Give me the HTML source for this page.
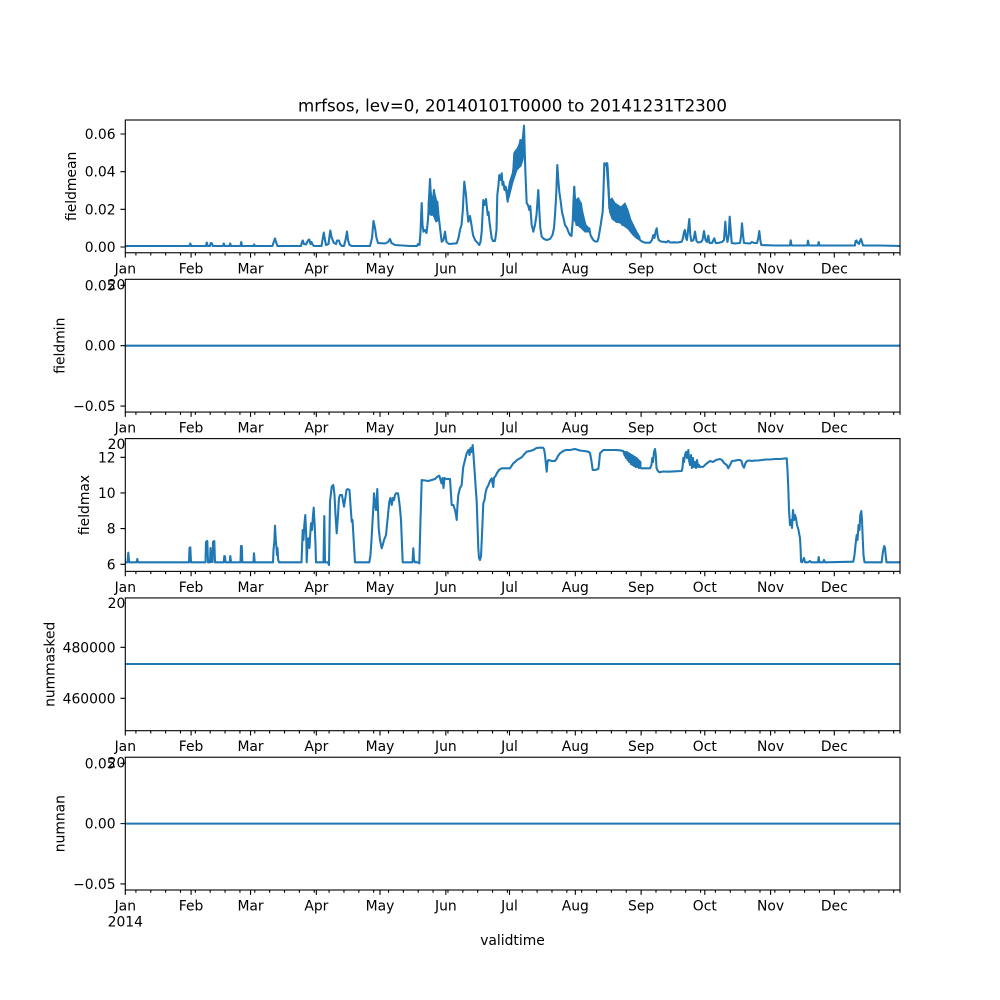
<!DOCTYPE html>
<html><head><meta charset="utf-8"><style>
html,body{margin:0;padding:0;background:#fff;}
svg{display:block;}
text{font-family:"DejaVu Sans","Liberation Sans",sans-serif;fill:#000;}
.t{font-size:13.89px;}
</style></head><body>
<svg width="1000" height="1000" viewBox="0 0 1000 1000" xmlns="http://www.w3.org/2000/svg">
<defs>
<path id="xt" d="M125.3 0v4.86M191.1 0v4.86M250.54 0v4.86M316.34 0v4.86M380.03 0v4.86M445.83 0v4.86M509.51 0v4.86M575.31 0v4.86M641.12 0v4.86M704.8 0v4.86M770.6 0v4.86M834.29 0v4.86M135.91 0v2.78M150.77 0v2.78M165.63 0v2.78M180.49 0v2.78M195.35 0v2.78M210.21 0v2.78M225.07 0v2.78M239.93 0v2.78M254.78 0v2.78M269.64 0v2.78M284.5 0v2.78M299.36 0v2.78M314.22 0v2.78M329.08 0v2.78M343.94 0v2.78M358.8 0v2.78M373.66 0v2.78M388.52 0v2.78M403.37 0v2.78M418.23 0v2.78M433.09 0v2.78M447.95 0v2.78M462.81 0v2.78M477.67 0v2.78M492.53 0v2.78M507.39 0v2.78M522.25 0v2.78M537.11 0v2.78M551.97 0v2.78M566.82 0v2.78M581.68 0v2.78M596.54 0v2.78M611.4 0v2.78M626.26 0v2.78M641.12 0v2.78M655.98 0v2.78M670.84 0v2.78M685.7 0v2.78M700.56 0v2.78M715.41 0v2.78M730.27 0v2.78M745.13 0v2.78M759.99 0v2.78M774.85 0v2.78M789.71 0v2.78M804.57 0v2.78M819.43 0v2.78M834.29 0v2.78M849.15 0v2.78M864.01 0v2.78M878.86 0v2.78M893.72 0v2.78M900 0v2.78" stroke="#000" stroke-width="1.1" fill="none"/>
<clipPath id="c1"><rect x="125.3" y="120" width="774.7" height="132.76"/></clipPath>
<clipPath id="c3"><rect x="125.3" y="438.62" width="774.7" height="132.76"/></clipPath>
</defs>
<rect width="1000" height="1000" fill="#fff"/>

<text x="512.5" y="111.5" text-anchor="middle" style="font-size:16.67px">mrfsos, lev=0, 20140101T0000 to 20141231T2300</text>

<!-- Panel 1 -->
<rect x="125.3" y="120" width="774.7" height="132.76" fill="#fff"/>
<g clip-path="url(#c1)" fill="#1f77b4" stroke="#1f77b4" stroke-width="1" stroke-linejoin="round">
<polygon points="505,186 508,192 510,180 512.7,172 514.3,152 516.3,150 518.3,146 520.3,140 522.3,140 524,126 524.5,150 523,160 521,166 519,168 517,170 515,176 513,182 511,190 509,198 507,200"/>
<polygon points="606,163 608,166 609.5,200 612,198 615,203 618,205 621,207 625,203 628,210 631,220 634,226 637,232 640,237 640,240.5 636,238 632,234 628,229 624,226 620,223 616,222 612,219 609.5,212"/>
<polygon points="573.5,188 576,200 578.5,198 581,203 583.5,215 586,225 589,228 589,232 585,232 581,228 577,225 574,220"/>
<polygon points="428,205 430,180 432,200 434,190 437,202 439,220 436,222 433,215 430,215"/>
</g>
<polyline clip-path="url(#c1)" fill="none" stroke="#1f77b4" stroke-width="2.08" stroke-linejoin="round" points="125.3,246 189.5,246 190.3,243.5 191.2,246 206,246 206.8,242.5 207.7,246 210,246 210.7,243 212,243.5 212.8,246 223,246 223.8,243.5 224.8,246 229.5,246 230.2,243.5 231,246 240.5,246 241.2,242 242,246 253.5,246 254.2,244.5 255,246 272.5,246 274,241 275,238.5 276,242 277.5,246 301,246 302,242 302.8,240.5 304,244 306,244.5 308,240.5 309.3,239.5 310.5,244 311.5,242 312.5,244.5 314,246 321.5,246 322.5,240 323.8,232.5 325,240 326,245 328.5,244 329.5,236 330.3,230.5 331.5,237 333,241 334,243 336,244 337,240.5 339,240.5 340,244 342,246 344,246 345.5,240 347,231.5 348,240 349.5,245 352,246 368,246 370,246 372,238 373.5,221 375,228 376.5,238 378,243 385,243.5 388,242 390,239 391.5,243 395,245 410,246 417,246 418,244 419.5,245 420.5,232 421.7,203 422.5,225 423.5,231.7 425,230 426.5,233 428,220 430,179 431.7,215 433,200 434,190 435.5,210 436.5,205 437.3,201.7 438.5,215 439.3,221.7 441.7,241.7 443.5,240 445,231.7 446.5,242 449,244 456.7,243.3 458.5,238 460,230 461.5,225 462.7,211.7 464.3,181.7 466,195 467,208 468.3,221.7 470,216 471.5,225 473,235 475,240 479.3,245 480.5,242 481.7,231.7 483.3,200 484.5,205 486,199 487.7,215 488.5,212 489.5,222 491.7,238.3 493,241 495,241 496.5,230 497.3,195 498.5,185 499.3,175 500.5,180 501.7,173.3 502.5,185 503.3,181.7 504.5,190 505.7,186.7 507,195 507.7,201.7 508.7,190 510,181.7 511.3,185 512.7,175 513.5,168 514.3,153.3 515.3,165 516.3,150 517.3,160 518.3,148.3 519.3,158 520.3,140 521.3,150 522.3,141.7 523.2,135 524,125.7 524.7,150 525.3,170 526.7,203.3 528,205 529.3,210 530.3,206 531.7,225 532.5,228 533.3,231.7 535,225 536.5,215 538.3,190 539.3,210 540.3,228 541.7,236.7 544,239 546.7,240 550,239 552.5,235 554,228 555,215 556.2,195 557.3,165 558.3,180 559.3,191.7 560.5,200 562,212 563.5,218 565,225 567,228 568.5,232 570,235 571.5,236 572.8,220 573.5,200 574.3,186.7 575.5,210 576.5,225 577.5,212 578.3,198.3 579,205 580,220 581,203.3 582,215 583,225 584,228.3 586,227 587.5,230 589.3,228.3 590.5,235 592,238 593.3,240 595,241.5 597.3,241.5 598.5,238 599.5,232 600.7,225 601.7,218 602.7,211.7 603.5,190 604.3,163.3 605.3,165 606.3,163.3 607.3,163.3 608.3,180 609.3,208.3 610.5,200 611.5,215 612.7,202.3 613.5,210 614.5,220 615.5,212 616.5,222 617.5,210 618.5,218 619.3,208.3 620.3,220 621.3,212 622.3,225 623.3,210 624.3,215 625.3,205.7 626.3,218 627.3,214 628.3,224 629.3,218 630.5,228 631.7,228.3 633.3,230 634.5,233 635.5,231 636.5,235 637.5,234 638.5,238 640,240 642,241.5 645,242.7 650,242.7 652,240 653.3,235 654.5,238 655.5,232 656.7,228.3 657.5,235 658.7,240 661,241.5 666.7,242.3 668.3,240.8 670,242.5 675,242.3 678,242.5 681.7,241.7 683,238 684,232 685,230 686,238 687,240 688.3,228 689.3,219 690.3,235 691.3,241 693.5,240 695,231.7 696.5,241 698,242.5 701,242 702.5,240 704,231 705.5,240 707,242 708.3,235.7 709.5,243 712,243 714.3,238.3 715.7,243 718,243 722,242 724,240 725.3,221.7 726.3,235 727.5,242 728.7,235 729.7,216.7 730.7,230 731.7,243 735,243.5 740,243 741.2,235 742,223.3 743,235 744,243 750,243.5 752,242 754,243 757,243 758.3,238 759.3,231 760.3,240 761.3,245 775,245.5 790,245.5 790.7,240.3 791.5,245.5 807.3,245.5 808,240.7 808.8,245.5 818,245.5 818.7,242 819.5,245.5 855,245.5 855.5,241 856.5,240.5 857.5,242.5 859,244 860,241 861,239 862,242 863,245.5 880,245.5 900,246"/>
<rect x="125.3" y="120" width="774.7" height="132.76" fill="none" stroke="#000" stroke-width="1.1"/>
<use href="#xt" transform="translate(0,252.76)"/>
<path d="M120.44 247h4.86M120.44 209.33h4.86M120.44 171.67h4.86M120.44 134h4.86" stroke="#000" stroke-width="1.1"/>
<g class="t" text-anchor="end">
<text x="115.6" y="252">0.00</text><text x="115.6" y="214.3">0.02</text><text x="115.6" y="176.7">0.04</text><text x="115.6" y="139">0.06</text>
</g>
<text class="t" transform="translate(75.8,186.4) rotate(-90)" text-anchor="middle">fieldmean</text>
<g class="t" text-anchor="middle">
<text x="125.3" y="273.3">Jan</text><text x="191.1" y="273.3">Feb</text><text x="250.54" y="273.3">Mar</text><text x="316.34" y="273.3">Apr</text><text x="380.03" y="273.3">May</text><text x="445.83" y="273.3">Jun</text><text x="509.51" y="273.3">Jul</text><text x="575.31" y="273.3">Aug</text><text x="641.12" y="273.3">Sep</text><text x="704.8" y="273.3">Oct</text><text x="770.6" y="273.3">Nov</text><text x="834.29" y="273.3">Dec</text>
<text x="125.3" y="289.5">2014</text>
</g>

<!-- Panel 2 -->
<rect x="125.3" y="279.31" width="774.7" height="132.76" fill="#fff"/>
<line x1="125.3" y1="345.69" x2="900" y2="345.69" stroke="#1f77b4" stroke-width="2.08"/>
<rect x="125.3" y="279.31" width="774.7" height="132.76" fill="none" stroke="#000" stroke-width="1.1"/>
<use href="#xt" transform="translate(0,412.07)"/>
<path d="M120.44 285.34h4.86M120.44 345.69h4.86M120.44 406.03h4.86" stroke="#000" stroke-width="1.1"/>
<g class="t" text-anchor="end">
<text x="115.6" y="290.4">0.05</text><text x="115.6" y="350.7">0.00</text><text x="115.6" y="411.1">−0.05</text>
</g>
<text class="t" transform="translate(64.5,345.69) rotate(-90)" text-anchor="middle">fieldmin</text>
<g class="t" text-anchor="middle">
<text x="125.3" y="432.6">Jan</text><text x="191.1" y="432.6">Feb</text><text x="250.54" y="432.6">Mar</text><text x="316.34" y="432.6">Apr</text><text x="380.03" y="432.6">May</text><text x="445.83" y="432.6">Jun</text><text x="509.51" y="432.6">Jul</text><text x="575.31" y="432.6">Aug</text><text x="641.12" y="432.6">Sep</text><text x="704.8" y="432.6">Oct</text><text x="770.6" y="432.6">Nov</text><text x="834.29" y="432.6">Dec</text>
<text x="125.3" y="448.8">2014</text>
</g>

<!-- Panel 3 -->
<rect x="125.3" y="438.62" width="774.7" height="132.76" fill="#fff"/>
<g clip-path="url(#c3)" fill="#1f77b4" stroke="#1f77b4" stroke-width="1">
<polygon points="623,451 626,452 630,454 634,456 638,459 641,462 641,468.5 637,467 633,465 629,462 625,457"/>
</g>
<polyline clip-path="url(#c3)" fill="none" stroke="#1f77b4" stroke-width="2.08" stroke-linejoin="round" points="125.3,562.3 127.5,562.3 128.3,552.7 129.2,562.3 136.5,562.3 137.3,559 138,562.3 189,562.3 189.5,548 190.3,547.3 191,562.3 205.5,562.3 206,542 207.3,541 208,562.3 210,562.3 210.5,548 211.2,562 212.5,562 213,542 214.3,541 215,562.3 223.8,562.3 224.3,556 225,556.5 225.6,562.3 229.7,562.3 230.3,556 231,562.3 240.5,562.3 241,546 241.8,546 242.3,562.3 253.5,562.3 254,553.3 254.7,562.3 273,562.3 273.5,550 274.3,542 275,525.7 275.8,540 276.5,548 277,555 277.5,548 278.2,560 279,562.3 301.5,562.3 302.7,530 303.5,540 304.3,525 305.3,515 306.2,535 306.7,562.3 307.5,545 308.3,538.3 309.5,548 310.2,535 311,523.3 312,530 312.8,518 313.7,507.7 314.7,525 315.5,545 316,562.3 323.5,562.3 324.3,516 325,562.3 328,562.3 329,565 330,501.7 331.7,486.7 333.3,485 334.5,495 335.5,515 336.7,533.3 338,515 339,498 340,495 342,495 344,506.7 345.5,497 346.5,490 347.7,489 349.5,490 350.5,505 351.7,521.7 352.5,520 355,562.3 369.3,562.3 370.5,555 371.5,540 372.7,518.3 373.5,505 374,493.3 375,505 376,510 377.3,489 378,510 378.7,528.3 380,540 381.7,548.3 383,544 384,540 386,535 387.5,520 389.3,501.7 390.5,498 391.7,505 393,498 394,500 395,495 396,493.3 398,493.3 399,500 400,508.3 401,520 402.7,562.3 412.5,562.3 413.3,548.3 414,560 415,562.3 418.5,562.3 419.3,563.3 420.5,520 421.7,480 428.3,481 435,479 437,477 439.3,475.7 440.5,480 441.5,483.3 442.5,478 443.5,488 444.5,478 446.5,479 450,479 451.7,505 453.3,505 455,510 456,515 456.7,520 457.5,505 458.3,495 460,488 461.7,485 462.5,475 463.3,466.7 465,460 466.7,453.3 468.5,450 469.5,455 470.5,448 471.5,452 472.7,445 473.5,455 474.5,470 476.7,501.7 478.3,548.3 479,558 480,560 481,556 482,535 483.3,503.3 484.5,500 485.5,493 486.7,488.3 488.5,485 490,481 491.7,478.3 492.5,483 493.3,487 494,478 495.5,476 497,473 499,470 501.7,468.3 510,468.3 511.5,466 513.3,463.3 515,462 517,460 520,458.3 522,457 524,454.5 526.7,451.7 530,451 533.3,450 536.5,448 540,447.7 543,447.7 544,449 545,455 546.7,471.7 547.5,462 548.3,460 552,461 555,461 556.5,459 558,456 560,453.3 563.3,451 566,450 570,450 575,449 580,450.5 584,451 588.3,451.7 590,453 591.3,460 592.7,470 595,470 598.3,469 599,464 600,453.3 603.3,450 610,450 615,450 620,450.3 623.3,451 624.5,455 625.3,452 626.1,458 626.9,452 627.7,460 628.5,453 629.3,462 630.1,454 630.9,464 631.7,455 632.5,465 633.3,456 634.1,466 634.9,457 635.7,467 636.5,458 637.3,467 638.1,460 638.9,468 639.7,462 640.5,468 641.7,468.3 650,468.3 651.5,465 652.3,458 653,462 654,452 655,449 655.8,455 656.5,468 657.3,470 659.3,472.3 663,471.5 668,471.7 675,471.3 681.7,471 682.5,468 683.3,458 684,462 685,455 686,452 687,458 688.3,450 689,460 690,465 691,455 692,468 693,458 694,467 695,462 696,468 697,460 698,467 699,465 700,467 703.3,466.7 706,464 710,461 713,462 716,460 720,459 722,460 724,463 726.7,465 728.3,468.3 730,465 732,461 735,460.7 738,460 740,460 741.5,461 742.5,465 744,467.7 745.5,463 747,461 749,460.5 752,461 755,460.5 758,460.5 762,460 766,459.5 770,459.5 775,459 780,459 786.7,458.3 787.5,470 788.3,488.3 789,510 790,525 791,520 792,528 793,510 794,520 795,515 796,518.3 797,525 798.5,530 800,538.3 800.7,550 801,561.7 802,562.3 804,558 805,562.3 808,562.3 810,561 811,562.3 818,562.3 818.7,557 819.4,562.3 823,562.3 824,560 825,562.3 853.3,561.7 854.5,555 855.5,545 856.7,535 857.5,540 858.5,525 859.5,530 860.3,515 861.3,511 862,520 862.8,540 863.5,555 864.5,562.3 881.7,562.3 882.5,555 883.3,550 884.2,546 885,548 885.8,556 886.5,562.3 900,562.3"/>
<rect x="125.3" y="438.62" width="774.7" height="132.76" fill="none" stroke="#000" stroke-width="1.1"/>
<use href="#xt" transform="translate(0,571.38)"/>
<path d="M120.44 564.3h4.86M120.44 528.6h4.86M120.44 492.97h4.86M120.44 457.3h4.86" stroke="#000" stroke-width="1.1"/>
<g class="t" text-anchor="end">
<text x="115.6" y="569.3">6</text><text x="115.6" y="533.6">8</text><text x="115.6" y="498">10</text><text x="115.6" y="462.3">12</text>
</g>
<text class="t" transform="translate(88.8,505) rotate(-90)" text-anchor="middle">fieldmax</text>
<g class="t" text-anchor="middle">
<text x="125.3" y="591.9">Jan</text><text x="191.1" y="591.9">Feb</text><text x="250.54" y="591.9">Mar</text><text x="316.34" y="591.9">Apr</text><text x="380.03" y="591.9">May</text><text x="445.83" y="591.9">Jun</text><text x="509.51" y="591.9">Jul</text><text x="575.31" y="591.9">Aug</text><text x="641.12" y="591.9">Sep</text><text x="704.8" y="591.9">Oct</text><text x="770.6" y="591.9">Nov</text><text x="834.29" y="591.9">Dec</text>
<text x="125.3" y="608.1">2014</text>
</g>

<!-- Panel 4 -->
<rect x="125.3" y="597.93" width="774.7" height="132.76" fill="#fff"/>
<line x1="125.3" y1="664" x2="900" y2="664" stroke="#1f77b4" stroke-width="2.08"/>
<rect x="125.3" y="597.93" width="774.7" height="132.76" fill="none" stroke="#000" stroke-width="1.1"/>
<use href="#xt" transform="translate(0,730.69)"/>
<path d="M120.44 647.3h4.86M120.44 698.3h4.86" stroke="#000" stroke-width="1.1"/>
<g class="t" text-anchor="end">
<text x="115.6" y="652.3">480000</text><text x="115.6" y="703.3">460000</text>
</g>
<text class="t" transform="translate(54.5,664.31) rotate(-90)" text-anchor="middle">nummasked</text>
<g class="t" text-anchor="middle">
<text x="125.3" y="751.2">Jan</text><text x="191.1" y="751.2">Feb</text><text x="250.54" y="751.2">Mar</text><text x="316.34" y="751.2">Apr</text><text x="380.03" y="751.2">May</text><text x="445.83" y="751.2">Jun</text><text x="509.51" y="751.2">Jul</text><text x="575.31" y="751.2">Aug</text><text x="641.12" y="751.2">Sep</text><text x="704.8" y="751.2">Oct</text><text x="770.6" y="751.2">Nov</text><text x="834.29" y="751.2">Dec</text>
<text x="125.3" y="767.4">2014</text>
</g>

<!-- Panel 5 -->
<rect x="125.3" y="757.24" width="774.7" height="132.76" fill="#fff"/>
<line x1="125.3" y1="823.62" x2="900" y2="823.62" stroke="#1f77b4" stroke-width="2.08"/>
<rect x="125.3" y="757.24" width="774.7" height="132.76" fill="none" stroke="#000" stroke-width="1.1"/>
<use href="#xt" transform="translate(0,890)"/>
<path d="M120.44 763.27h4.86M120.44 823.62h4.86M120.44 883.97h4.86" stroke="#000" stroke-width="1.1"/>
<g class="t" text-anchor="end">
<text x="115.6" y="768.3">0.05</text><text x="115.6" y="828.6">0.00</text><text x="115.6" y="889">−0.05</text>
</g>
<text class="t" transform="translate(64.5,823.62) rotate(-90)" text-anchor="middle">numnan</text>
<g class="t" text-anchor="middle">
<text x="125.3" y="910.5">Jan</text><text x="191.1" y="910.5">Feb</text><text x="250.54" y="910.5">Mar</text><text x="316.34" y="910.5">Apr</text><text x="380.03" y="910.5">May</text><text x="445.83" y="910.5">Jun</text><text x="509.51" y="910.5">Jul</text><text x="575.31" y="910.5">Aug</text><text x="641.12" y="910.5">Sep</text><text x="704.8" y="910.5">Oct</text><text x="770.6" y="910.5">Nov</text><text x="834.29" y="910.5">Dec</text>
<text x="125.3" y="926.7">2014</text>
</g>
<text class="t" x="512.5" y="945" text-anchor="middle">validtime</text>
</svg>
</body></html>
